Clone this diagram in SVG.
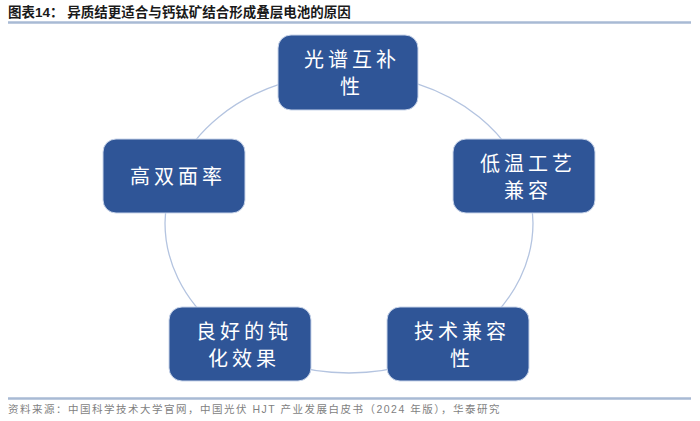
<svg xmlns="http://www.w3.org/2000/svg" width="700" height="421" viewBox="0 0 700 421">
<style>
.title{font-family:"Liberation Sans","Noto Sans CJK SC",sans-serif;font-size:13.5px;font-weight:bold;fill:#1a1a1a}
.foot{font-family:"Liberation Sans","Noto Sans CJK SC",sans-serif;font-size:10.5px;fill:#7f7f7f;letter-spacing:1.5px}
.box{fill:#2f5597;stroke:#c9d5ea;stroke-width:1}
.lbl{font-family:"Noto Sans CJK SC",serif;font-size:20px;fill:#ffffff;text-anchor:middle;letter-spacing:4px}
.rule{stroke:#a8bad4;stroke-width:2.5}
</style>
<rect width="700" height="421" fill="#ffffff"/>
<text class="title" x="8" y="17">图表14：  异质结更适合与钙钛矿结合形成叠层电池的原因</text>
<line class="rule" x1="8" y1="22.5" x2="691" y2="22.5"/>
<g id="connectors">
<ellipse cx="349" cy="223" rx="184" ry="150" fill="none" stroke="#b4c4e0" stroke-width="1.3"/>
</g>
<g id="n1">
<rect class="box" x="278" y="35" width="140" height="75" rx="13"/>
<text class="lbl" x="352" y="67">光谱互补</text>
<text class="lbl" x="352" y="94">性</text>
</g>
<g id="n2">
<rect class="box" x="453" y="139" width="142" height="74" rx="13"/>
<text class="lbl" x="528" y="171">低温工艺</text>
<text class="lbl" x="528" y="198">兼容</text>
</g>
<g id="n3">
<rect class="box" x="387" y="307" width="142" height="74" rx="13"/>
<text class="lbl" x="462" y="339">技术兼容</text>
<text class="lbl" x="462" y="366">性</text>
</g>
<g id="n4">
<rect class="box" x="169" y="307" width="142" height="74" rx="13"/>
<text class="lbl" x="244" y="339">良好的钝</text>
<text class="lbl" x="244" y="366">化效果</text>
</g>
<g id="n5">
<rect class="box" x="103" y="139" width="142" height="74" rx="13"/>
<text class="lbl" x="178" y="184">高双面率</text>
</g>
<line class="rule" x1="8" y1="398.5" x2="691" y2="398.5" stroke-width="1.5"/>
<text class="foot" x="8" y="413">资料来源：中国科学技术大学官网，中国光伏 HJT 产业发展白皮书（2024 年版），华泰研究</text>
</svg>
